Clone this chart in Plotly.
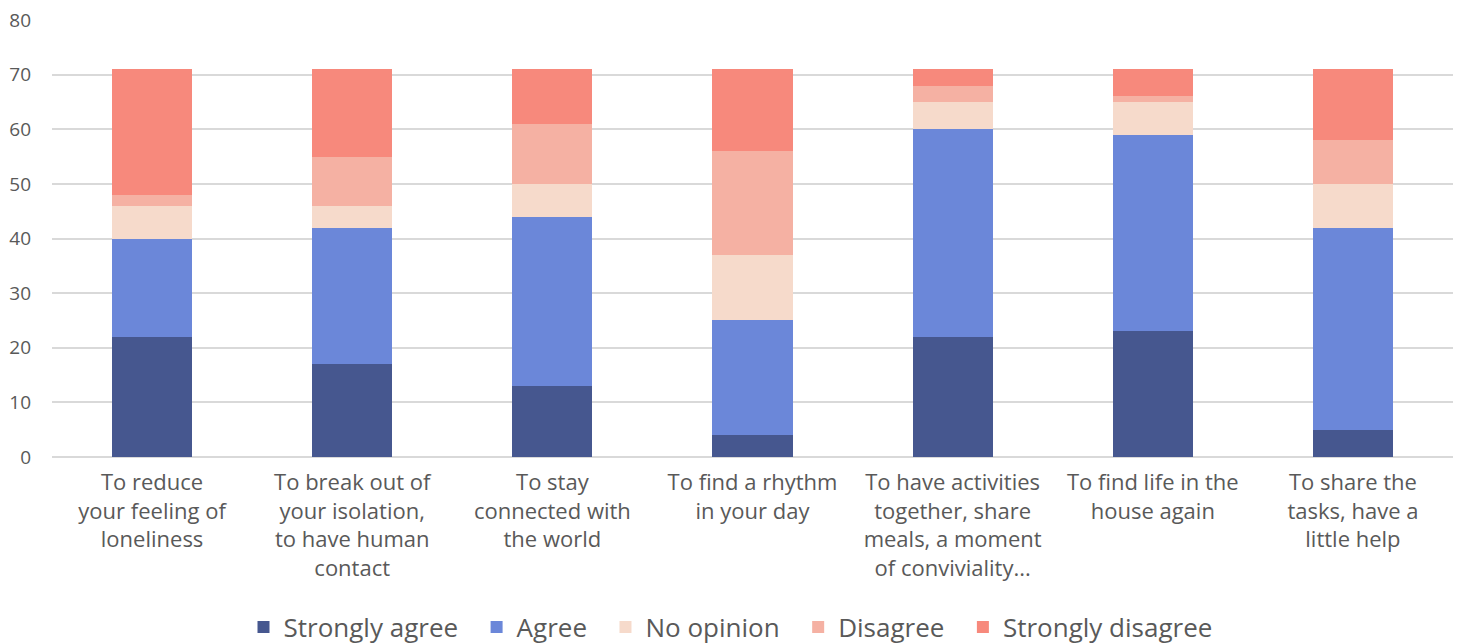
import plotly.graph_objects as go

categories = [
    "To reduce<br>your feeling of<br>loneliness",
    "To break out of<br>your isolation,<br>to have human<br>contact",
    "To stay<br>connected with<br>the world",
    "To find a rhythm<br>in your day",
    "To have activities<br>together, share<br>meals, a moment<br>of conviviality...",
    "To find life in the<br>house again",
    "To share the<br>tasks, have a<br>little help",
]
strongly_agree = [22, 17, 13, 4, 22, 23, 5]
agree = [18, 25, 31, 21, 38, 36, 37]
no_opinion = [6, 4, 6, 12, 5, 6, 8]
disagree = [2, 9, 11, 19, 3, 1, 8]
strongly_disagree = [23, 16, 10, 15, 3, 5, 13]

series = [
    ("Strongly agree", strongly_agree, "#46578f"),
    ("Agree", agree, "#6b87d9"),
    ("No opinion", no_opinion, "#f6dacb"),
    ("Disagree", disagree, "#f5b1a3"),
    ("Strongly disagree", strongly_disagree, "#f7897c"),
]

PAD = "\u00a0\u00a0"

fig = go.Figure()
for i, (name, vals, color) in enumerate(series):
    fig.add_trace(go.Bar(
        x=categories, y=vals,
        name=name + (PAD if i < len(series) - 1 else ""),
        marker=dict(color=color, line=dict(width=0)),
    ))

FONT = "Open Sans"
fig.update_layout(
    barmode="stack",
    bargap=0.6,
    width=1461, height=644,
    margin=dict(l=52, r=8, t=20, b=187, autoexpand=False),
    plot_bgcolor="white", paper_bgcolor="white",
    font=dict(family=FONT, color="#595959", size=20),
    xaxis=dict(
        tickfont=dict(size=22, color="#595959"),
        showgrid=False, showline=False, ticks="",
        automargin=False, ticklabelstandoff=10,
    ),
    yaxis=dict(
        range=[0, 80], dtick=10,
        gridcolor="#d9d9d9", gridwidth=1.5,
        tickfont=dict(size=19, color="#595959"),
        zeroline=True, zerolinecolor="#d9d9d9", zerolinewidth=1.5,
        ticks="", ticklabelstandoff=20, automargin=False,
    ),
    legend=dict(
        orientation="h", x=0.5, xanchor="center", xref="container",
        y=1 - 627 / 644, yanchor="middle", yref="container",
        font=dict(size=26, color="#595959"),
        traceorder="normal",
    ),
)

fig.write_html("out.html")
